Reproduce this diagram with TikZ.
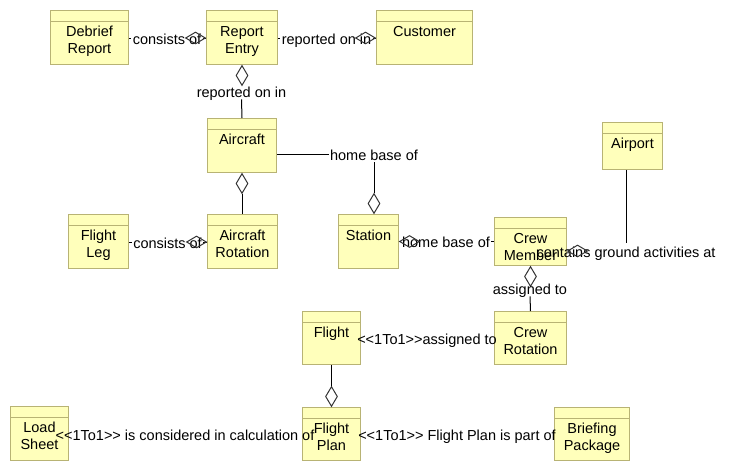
\documentclass[tikz,border=0pt]{standalone}
\usepackage{fontspec}
\setmainfont{Liberation Sans}
\usetikzlibrary{shapes.geometric}
\newlength\upx
\setlength\upx{0.75pt}
\definecolor{boxfill}{HTML}{FFFFBB}
\definecolor{boxedge}{HTML}{B8B374}
\definecolor{diamedge}{HTML}{333333}
\newcommand\onetoone{<\kern0pt<1To1>\kern0pt>}
\newcommand\umlclass[6]{%
  \node[classbox, minimum width=#4\upx, minimum height=#5\upx, anchor=north west] (#1) at (#2,#3) {};
  \draw[hdrline] ([yshift=-11.5\upx]#1.north west) -- ([yshift=-11.5\upx]#1.north east);
  \node[classname, anchor=north] (#1-name) at ([yshift=-16\upx]#1.north) {#6};
}
\begin{document}
\begin{tikzpicture}[x=0.75pt, y=-0.75pt,
  every node/.style={font=\fontsize{10.875pt}{12.75pt}\selectfont},
  classbox/.style={draw=boxedge, fill=boxfill, line width=0.75pt, inner sep=0pt},
  hdrline/.style={draw=boxedge, line width=0.75pt},
  classname/.style={align=center, inner sep=0pt, text=black},
  elabel/.style={inner xsep=1\upx, inner ysep=0pt, text height=14\upx, text depth=2\upx, text=black},
  conn/.style={draw=black, line width=0.75pt},
  diam/.style={diamond, draw=diamedge, line width=0.75pt, inner sep=0pt, minimum width=20\upx, minimum height=12\upx},
  vdiam/.style={diamond, draw=diamedge, line width=0.75pt, inner sep=0pt, minimum width=12\upx, minimum height=20\upx}]
\useasboundingbox (0,0) rectangle (736,471);

% classes
\umlclass{debrief}{50}{10}{78}{54}{Debrief\\Report}
\umlclass{entry}{206}{10}{71}{54}{Report\\Entry}
\umlclass{customer}{376}{10}{96}{54}{Customer}
\umlclass{aircraft}{207}{118}{69}{54}{Aircraft}
\umlclass{airport}{602}{122}{60}{47}{Airport}
\umlclass{flightleg}{68}{214}{60}{54}{Flight\\Leg}
\umlclass{rotation}{207}{214}{70}{54}{Aircraft\\Rotation}
\umlclass{station}{338}{214}{60}{54}{Station}
\umlclass{crewmember}{494}{217}{72}{48}{Crew\\Member}
\umlclass{crewrot}{494}{311}{72}{53}{Crew\\Rotation}
\umlclass{flight}{302}{311}{58}{53}{Flight}
\umlclass{flightplan}{302}{407}{58}{53}{Flight\\Plan}
\umlclass{loadsheet}{10}{406}{58}{54}{Load\\Sheet}
\umlclass{briefing}{554}{407}{75}{53}{Briefing\\Package}

% Debrief Report -- Report Entry
\node[elabel] (l1) at (167,38) {consists of};
\draw[conn] (debrief.east |- l1) -- (l1.west);
\draw[conn] (l1.east) -- (entry.west |- l1);
\node[diam, anchor=east] (d1) at (entry.west |- l1) {};

% Report Entry -- Customer
\node[elabel] (l2) at (326.5,38) {reported on in};
\draw[conn] (entry.east |- l2) -- (l2.west);
\draw[conn] (l2.east) -- (customer.west |- l2);
\node[diam, anchor=east] (d2) at (customer.west |- l2) {};

% Report Entry -- Aircraft
\node[vdiam, anchor=north] (d3) at (entry.south) {};
\node[elabel] (l3) at (241.5,91) {reported on in};
\draw[conn] (l3.south) -- (aircraft.north);

% Aircraft -- Station
\node[elabel] (l4) at (374,154) {home base of};
\draw[conn] (aircraft.east |- l4) -- (l4.west);
\coordinate (c4) at (374,214);
\node[vdiam, anchor=south] (d4) at (c4) {};
\draw[conn] (l4.south) -- (d4.north);

% Flight Leg -- Aircraft Rotation
\node[elabel] (l5) at (167.5,242) {consists of};
\draw[conn] (flightleg.east |- l5) -- (l5.west);
\draw[conn] (l5.east) -- (rotation.west |- l5);
\node[diam, anchor=east] (d5) at (rotation.west |- l5) {};

% Aircraft -- Aircraft Rotation
\node[vdiam, anchor=north] (d6) at (aircraft.south) {};
\draw[conn] (d6.south) -- (d6.south |- rotation.north);

% Station -- Crew Member
\node[elabel] (l7) at (446,241.5) {home base of};
\node[diam, anchor=west] (d7) at (station.east |- l7) {};
\draw[conn] (l7.east) -- (crewmember.west |- l7);

% Airport -- Crew Member
\node[elabel] (l8) at (626,251) {contains ground activities at};
\draw[conn] (l8.north |- airport.south) -- (l8.north);
\node[diam, anchor=west] (d8) at (crewmember.east |- l8) {};

% Crew Member -- Crew Rotation
\node[vdiam, anchor=north] (d9) at (crewmember.south) {};
\node[elabel] (l9) at (530,288) {assigned to};
\draw[conn] (l9.south) -- (crewrot.north);

% Flight -- Crew Rotation
\node[elabel] (l10) at (427,338) {\onetoone assigned to};

% Flight -- Flight Plan
\node[vdiam, anchor=south] (d11) at (flightplan.north) {};
\draw[conn] (flight.south) -- (d11.north);

% Load Sheet -- Flight Plan
\node[elabel] (l12) at (185,434) {\onetoone{} is considered in calculation of};

% Flight Plan -- Briefing Package
\node[elabel] (l13) at (457,434) {\onetoone{} Flight Plan is part of};
\end{tikzpicture}
\end{document}
